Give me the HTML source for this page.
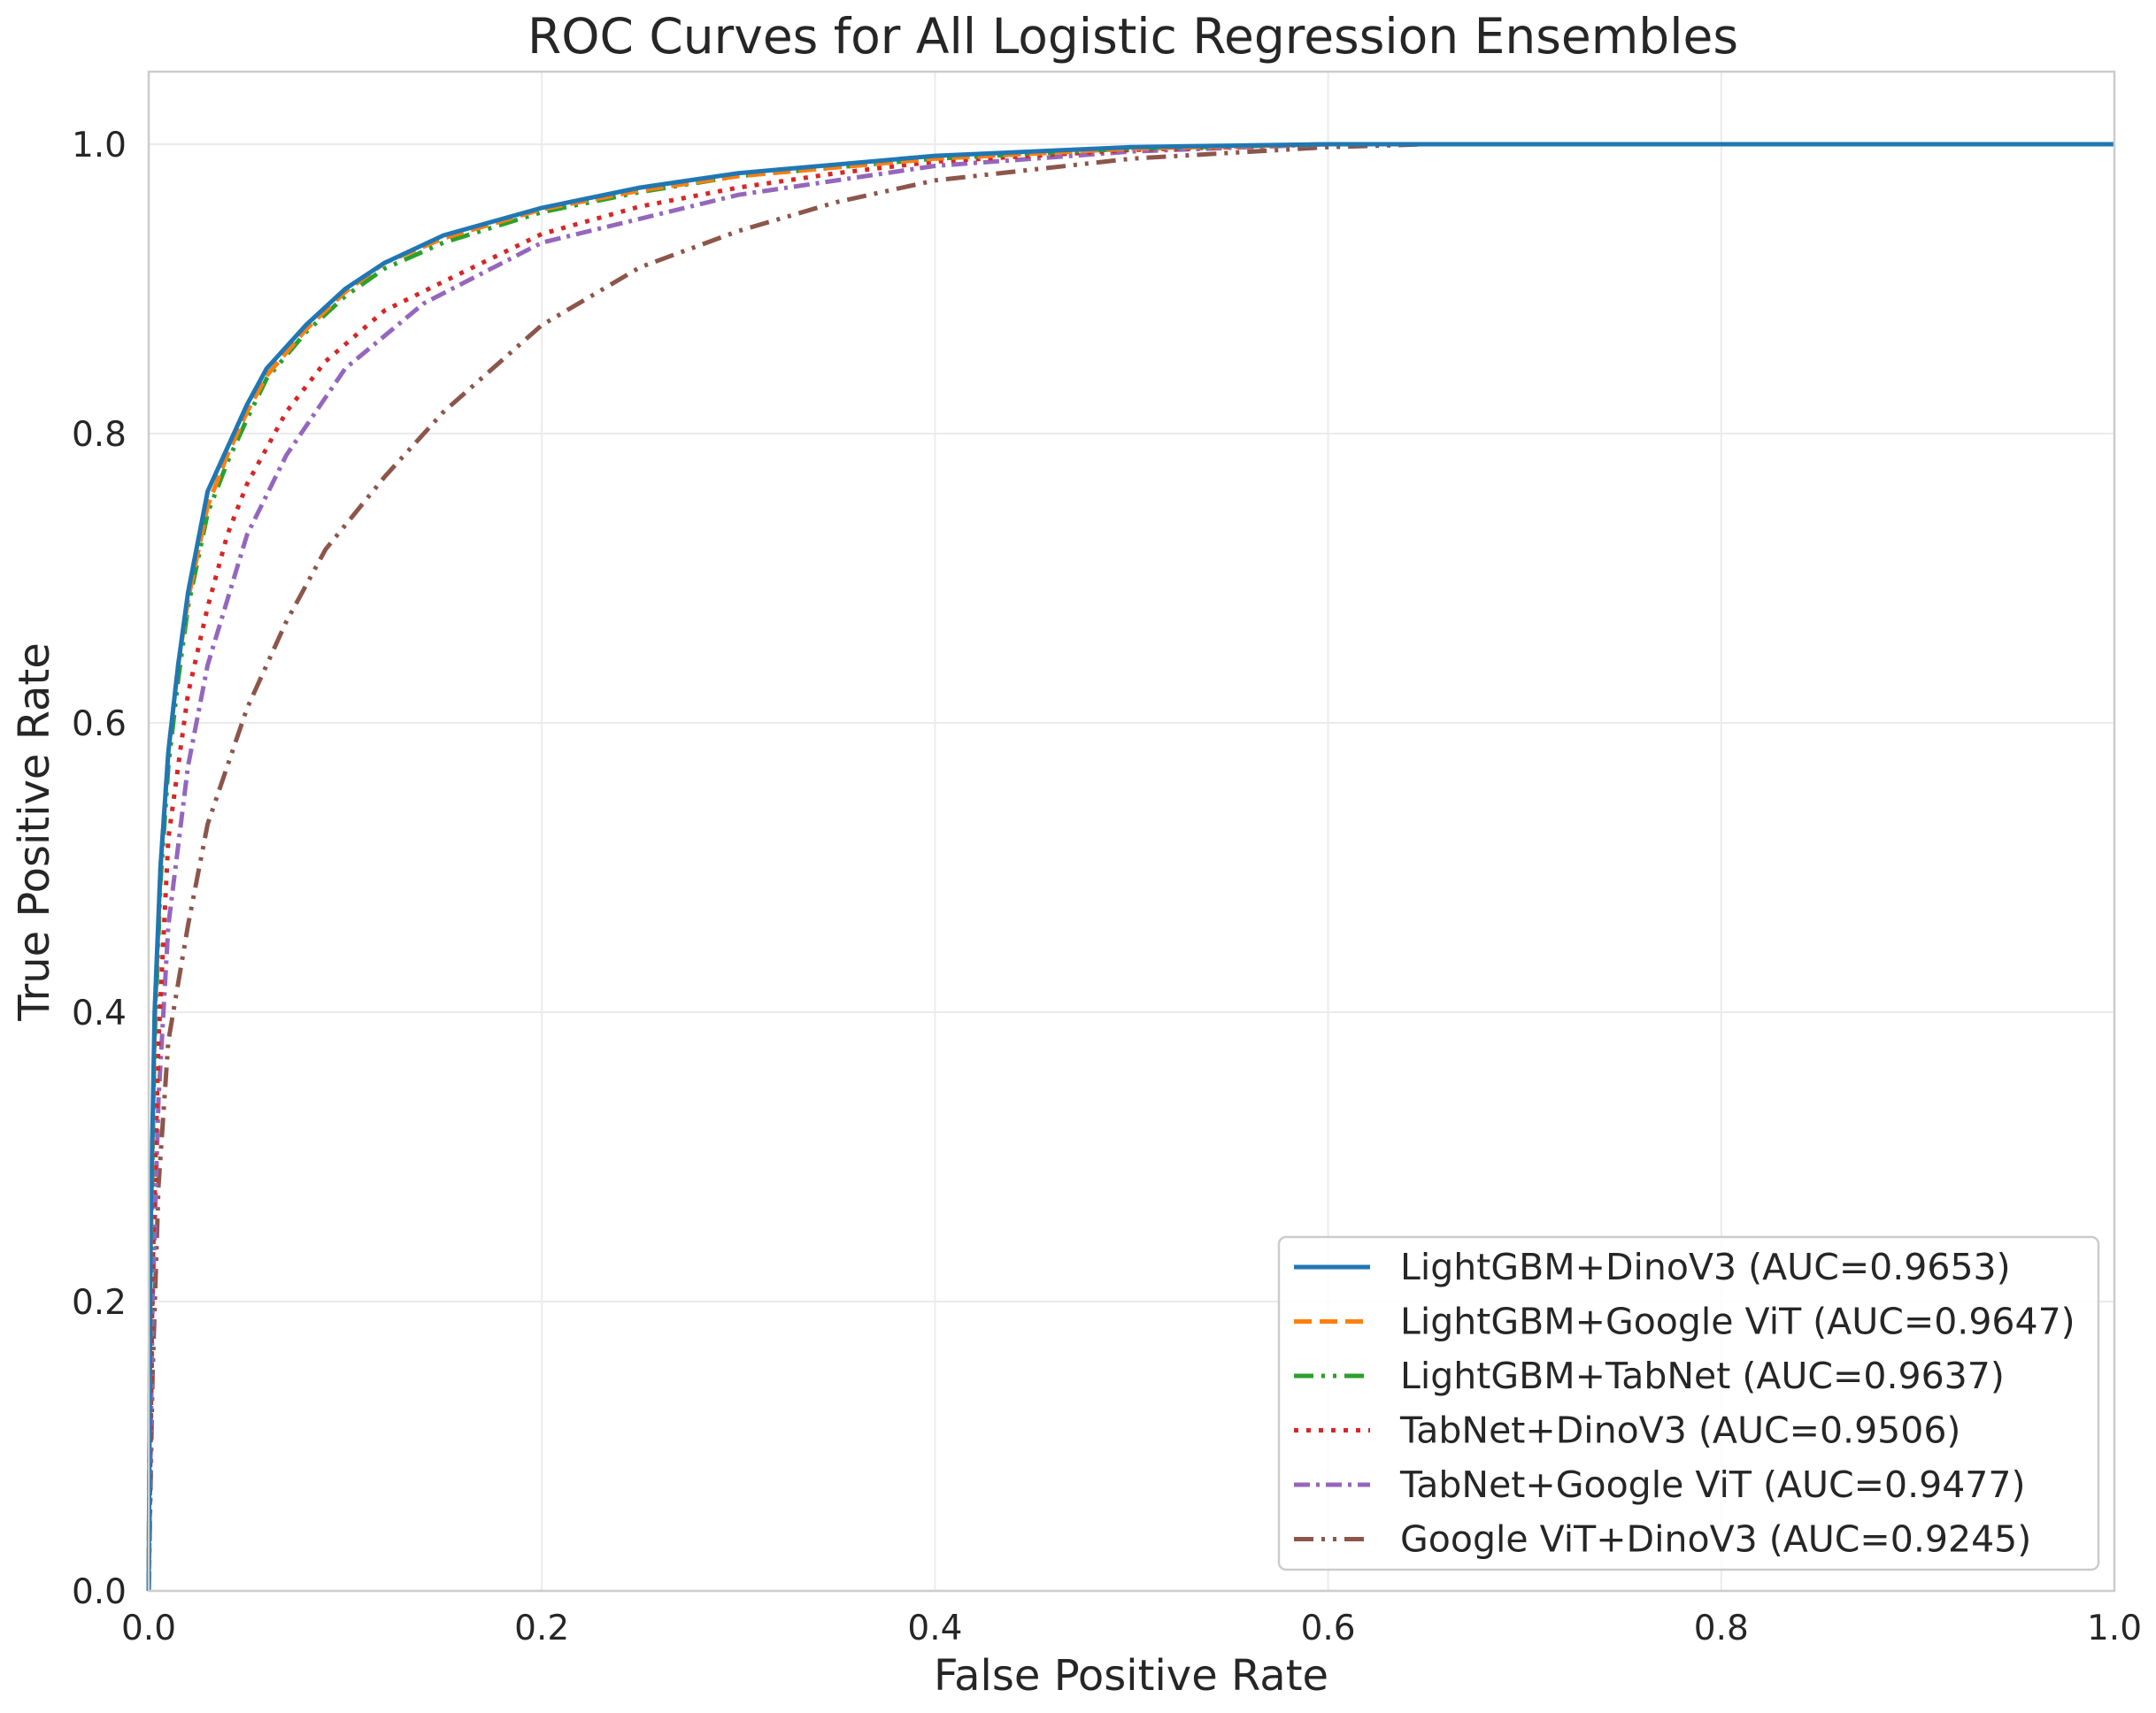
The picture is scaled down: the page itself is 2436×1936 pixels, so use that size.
<!DOCTYPE html>
<html><head><meta charset="utf-8"><style>
html,body{margin:0;padding:0;background:#fff}
svg{display:block;font-family:"DejaVu Sans","Liberation Sans",sans-serif}
</style></head><body>
<svg id="chart" width="2436" height="1936" xmlns="http://www.w3.org/2000/svg">
<rect x="0" y="0" width="2436" height="1936" fill="#fff"/>
<g id="grid"></g>
<g id="curves"></g>
<rect x="168" y="81" width="2221" height="1717" fill="none" stroke="#cccccc" stroke-width="2.5"/>
<g id="ticks" fill="#262626" font-size="39"></g>
<text x="1280" y="60" text-anchor="middle" font-size="55" fill="#262626">ROC Curves for All Logistic Regression Ensembles</text>
<text x="1278" y="1910" text-anchor="middle" font-size="48" fill="#262626">False Positive Rate</text>
<text transform="translate(55,940) rotate(-90)" text-anchor="middle" font-size="48" fill="#262626">True Positive Rate</text>
<g id="legend"></g>
</svg>
<script>
const xTicks=[0,0.2,0.4,0.6,0.8,1.0];
const yTicks=[0,0.2,0.4,0.6,0.8,1.0];
const seriesNames=["LightGBM+DinoV3 (AUC=0.9653)","LightGBM+Google ViT (AUC=0.9647)","LightGBM+TabNet (AUC=0.9637)","TabNet+DinoV3 (AUC=0.9506)","TabNet+Google ViT (AUC=0.9477)","Google ViT+DinoV3 (AUC=0.9245)"];
const fprLGBDino=[0,0.001,0.003,0.006,0.01,0.015,0.02,0.03,0.04,0.05,0.06,0.08,0.1,0.12,0.15,0.2,0.25,0.3,0.4,0.5,0.6,1];
const tprLGBDino=[0,0.25,0.4,0.5,0.58,0.64,0.69,0.76,0.79,0.82,0.845,0.875,0.9,0.918,0.937,0.956,0.97,0.98,0.992,0.998,1,1];
const fprLGBViT=[0,0.001,0.003,0.006,0.01,0.015,0.02,0.03,0.04,0.05,0.06,0.08,0.1,0.12,0.15,0.2,0.25,0.3,0.4,0.5,0.6,1];
const tprLGBViT=[0,0.24,0.39,0.5,0.58,0.64,0.685,0.75,0.785,0.815,0.84,0.872,0.898,0.918,0.935,0.955,0.968,0.978,0.99,0.997,1,1];
const fprLGBTab=[0,0.001,0.003,0.006,0.01,0.015,0.02,0.03,0.04,0.05,0.06,0.08,0.1,0.12,0.15,0.2,0.25,0.3,0.4,0.5,0.6,1];
const tprLGBTab=[0,0.23,0.38,0.49,0.57,0.63,0.68,0.745,0.78,0.81,0.838,0.87,0.895,0.914,0.932,0.953,0.967,0.978,0.99,0.997,1,1];
const fprTabDino=[0,0.002,0.005,0.01,0.02,0.03,0.04,0.05,0.07,0.09,0.12,0.15,0.2,0.25,0.3,0.35,0.4,0.5,0.6,1];
const tprTabDino=[0,0.22,0.38,0.52,0.62,0.68,0.73,0.765,0.815,0.85,0.885,0.905,0.938,0.957,0.97,0.98,0.988,0.996,1,1];
const fprTabViT=[0,0.002,0.005,0.01,0.02,0.03,0.05,0.07,0.1,0.14,0.2,0.3,0.4,0.5,0.6,1];
const tprTabViT=[0,0.2,0.34,0.46,0.57,0.64,0.73,0.785,0.845,0.89,0.932,0.965,0.985,0.995,1,1];
const fprViTDino=[0,0.002,0.005,0.01,0.02,0.03,0.04,0.05,0.07,0.09,0.12,0.15,0.2,0.25,0.3,0.35,0.4,0.5,0.6,0.65,1];
const tprViTDino=[0,0.15,0.28,0.38,0.46,0.53,0.57,0.61,0.67,0.72,0.77,0.815,0.875,0.915,0.94,0.96,0.975,0.99,0.998,1,1];
const seriesFpr=[fprLGBDino,fprLGBViT,fprLGBTab,fprTabDino,fprTabViT,fprViTDino];
const seriesTpr=[tprLGBDino,tprLGBViT,tprLGBTab,tprTabDino,tprTabViT,tprViTDino];
const colors=["#1f77b4","#ff7f0e","#2ca02c","#d62728","#9467bd","#8c564b"];
const dashes=["","20,9","22,9,4,9,4,9","5,9","18,7,4,7","22,9,4,9,4,9"];
const X0=168,X1=2389,Y0=1798,Y1=163;
const sx=v=>X0+v*(X1-X0), sy=v=>Y0-v*(Y0-Y1);
const NS="http://www.w3.org/2000/svg";
function mk(t,a,p){const e=document.createElementNS(NS,t);for(const k in a)e.setAttribute(k,a[k]);p.appendChild(e);return e;}
const grid=document.getElementById('grid'),ticks=document.getElementById('ticks');
xTicks.forEach(v=>{
 const g=mk('line',{x1:sx(v),x2:sx(v),y1:81,y2:1798,stroke:'#ebebeb','stroke-width':2},grid);
 
 
 const t=mk('text',{x:sx(v),y:1853,'text-anchor':'middle'},ticks);t.textContent=v.toFixed(1);
 
 
});
yTicks.forEach(v=>{
 const g=mk('line',{x1:168,x2:2389,y1:sy(v),y2:sy(v),stroke:'#ebebeb','stroke-width':2},grid);
 
 
 const t=mk('text',{x:143,y:sy(v)+14,'text-anchor':'end'},ticks);t.textContent=v.toFixed(1);
 
 
});
const curves=document.getElementById('curves');
for(let i=seriesFpr.length-1;i>=0;i--){
 const d=seriesFpr[i].map((f,j)=>(j?'L':'M')+sx(f).toFixed(1)+','+sy(seriesTpr[i][j]).toFixed(1)).join('');
 const p=mk('path',{d:d,fill:'none',stroke:colors[i],'stroke-width':5,'stroke-dasharray':dashes[i]||'none','stroke-linejoin':'round'},curves);
 
 
}
const leg=document.getElementById('legend');
const box=mk('rect',{x:1445,y:1398,width:926,height:376,rx:8,fill:'#fff','fill-opacity':0.85,stroke:'#cccccc','stroke-width':2.5},leg);


seriesNames.forEach((n,i)=>{
 const y=1432+i*61.5;
 const l=mk('line',{x1:1462,x2:1548,y1:y,y2:y,stroke:colors[i],'stroke-width':5,'stroke-dasharray':dashes[i]||'none'},leg);
 
 
 const t=mk('text',{x:1582,y:y+14,'font-size':41,fill:'#262626'},leg);t.textContent=n;
 
 
});
</script>
</body></html>
